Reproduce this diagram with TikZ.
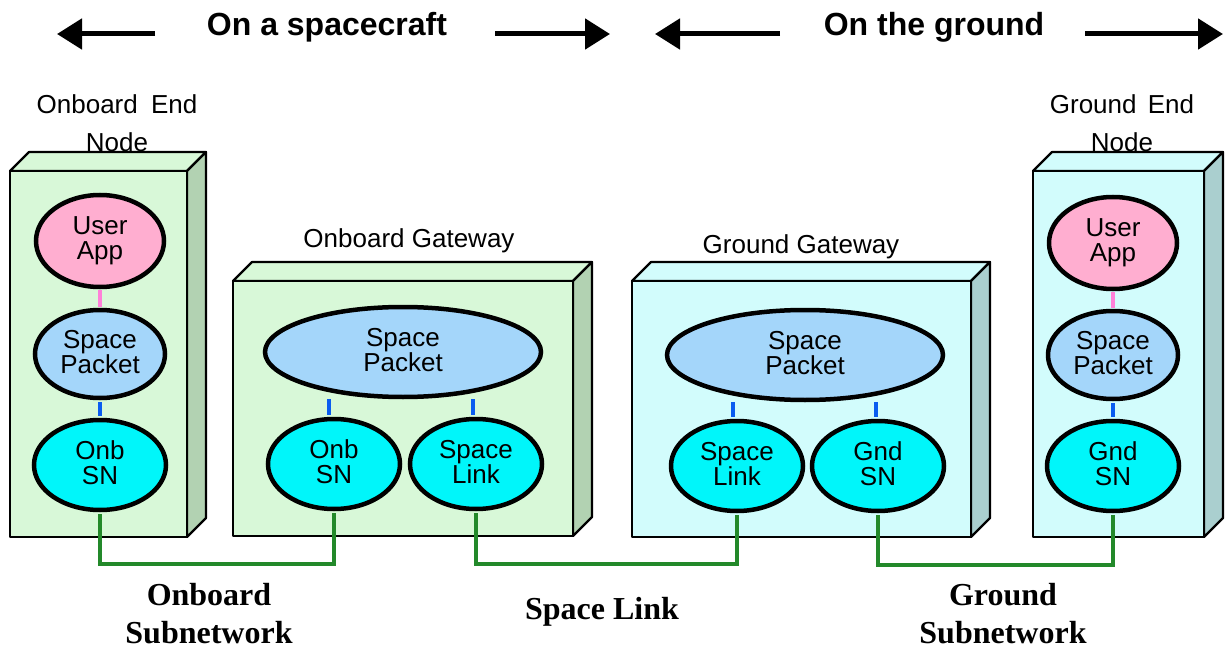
\documentclass[tikz,border=0pt]{standalone}
\usepackage{fontspec}
\setmainfont{Liberation Sans}
\newfontfamily\labelserif{Liberation Serif}
\usetikzlibrary{shapes.geometric,arrows.meta}

\definecolor{obfront}{HTML}{D8F8D8}
\definecolor{obside}{HTML}{B2D2B2}
\definecolor{gdfront}{HTML}{D2FCFC}
\definecolor{gdside}{HTML}{AACFCF}
\definecolor{apppink}{HTML}{FFAED0}
\definecolor{pktblue}{HTML}{A4D6FA}
\definecolor{sncyan}{HTML}{00F6FA}
\definecolor{linkpink}{HTML}{FF80D8}
\definecolor{linkblue}{HTML}{0A5CF0}
\definecolor{netgreen}{HTML}{23892A}

% a box drawn in oblique view: front face, top face and right side
\newcommand\slabbox[6]{%
  \filldraw[boxline, fill=#5] (#1,#2) -- (#1+19,#2-19) -- (#3+19,#2-19) -- (#3,#2) -- cycle;
  \filldraw[boxline, fill=#6] (#3,#2) -- (#3+19,#2-19) -- (#3+19,#4-19) -- (#3,#4) -- cycle;
  \filldraw[boxline, fill=#5] (#1,#2) rectangle (#3,#4);
}

\tikzset{
  boxline/.style={line width=2.2, line join=round},
  layer/.style={ellipse, draw, line width=4.5, inner sep=0, align=center,
    text depth=5, font=\fontsize{26}{25}\selectfont},
  app/.style={layer, fill=apppink, minimum width=128, minimum height=92},
  pkt/.style={layer, fill=pktblue, minimum width=130, minimum height=88},
  bigpkt/.style={layer, fill=pktblue, minimum width=276, minimum height=90},
  sn/.style={layer, fill=sncyan, minimum width=132, minimum height=90},
  pinkwire/.style={draw=linkpink, line width=4, shorten <=1, shorten >=1},
  bluewire/.style={draw=linkblue, line width=4, shorten <=2},
  greenwire/.style={draw=netgreen, line width=4, shorten <=2, shorten >=2},
  dirarrow/.style={line width=5, -{Triangle[length=25,width=30]}},
  title/.style={font=\fontsize{32}{36}\selectfont\bfseries},
  boxlabel/.style={align=center, font=\fontsize{26}{38}\selectfont},
  netlabel/.style={align=center, inner sep=0, font=\labelserif\bfseries\fontsize{32}{38}\selectfont},
}

\begin{document}
\begin{tikzpicture}[x=1pt, y=-1pt]
\useasboundingbox (0,0) rectangle (1227,650);

% headings with direction arrows
\node[title] (spacecraft) at (327,27) {On a spacecraft};
\node[title] (ground) at (934,27) {On the ground};
\coordinate (sL) at (155,34); \coordinate (sLtip) at (57,34);
\coordinate (sR) at (495,34); \coordinate (sRtip) at (610,34);
\coordinate (gL) at (780,34); \coordinate (gLtip) at (655,34);
\coordinate (gR) at (1085,34); \coordinate (gRtip) at (1223,34);
\draw[dirarrow] (sL) -- (sLtip);
\draw[dirarrow] (sR) -- (sRtip);
\draw[dirarrow] (gL) -- (gLtip);
\draw[dirarrow] (gR) -- (gRtip);

% the four boxes
\slabbox{10}{171}{187}{537}{obfront}{obside}
\slabbox{233}{281}{573}{536}{obfront}{obside}
\slabbox{632}{281}{971}{537}{gdfront}{gdside}
\slabbox{1033}{171}{1204}{537}{gdfront}{gdside}

% box titles
\node[boxlabel] (onbendlbl) at (117,123) {Onboard\hspace{6pt} End\\Node};
\node[boxlabel] (onbgwlbl) at (409,241) {Onboard Gateway};
\node[boxlabel] (gndgwlbl) at (801,247) {Ground Gateway};
\node[boxlabel] (gndendlbl) at (1122,123) {Ground\hspace{4pt} End\\Node};

% onboard end node
\node[app] (app1) at (100,241) {User\\App};
\node[pkt] (pkt1) at (100,354) {Space\\Packet};
\node[sn]  (sn1)  at (100,465) {Onb\\SN};

% onboard gateway
\node[bigpkt] (pkt2) at (403,352) {Space\\Packet};
\node[sn] (sn2)   at (334,464) {Onb\\SN};
\node[sn] (link2) at (476,464) {Space\\Link};

% ground gateway
\node[bigpkt] (pkt3) at (805,355) {Space\\Packet};
\node[sn] (link3) at (737,466) {Space\\Link};
\node[sn] (gsn3)  at (878,466) {Gnd\\SN};

% ground end node
\node[app] (app4) at (1113,243) {User\\App};
\node[pkt] (pkt4) at (1113,355) {Space\\Packet};
\node[sn]  (gsn4) at (1113,466) {Gnd\\SN};

% layer interfaces
\draw[pinkwire] (app1.south) -- (pkt1.north);
\draw[pinkwire] (app4.south) -- (pkt4.north);
\draw[bluewire, shorten >=2] (sn1.north) -- (pkt1.south);
\draw[bluewire, shorten >=2] (gsn4.north) -- (pkt4.south);
\draw[bluewire] ([xshift=-5]sn2.north) -- ([xshift=-5]sn2.north |- pkt2.south);
\draw[bluewire] ([xshift=-3]link2.north) -- ([xshift=-3]link2.north |- pkt2.south);
\draw[bluewire] ([xshift=-4]link3.north) -- ([xshift=-4]link3.north |- pkt3.south);
\draw[bluewire] ([xshift=-2]gsn3.north) -- ([xshift=-2]gsn3.north |- pkt3.south);

% subnetworks
\draw[greenwire] (sn1.south) -- ++(0,52) -| (sn2.south);
\draw[greenwire] (link2.south) -- ++(0,53) -| (link3.south);
\draw[greenwire] (gsn3.south) -- ++(0,52) -| (gsn4.south);

\node[netlabel] (onbnet) at (209,614) {Onboard\\Subnetwork};
\node[netlabel] (spacelink) at (602,612) {Space Link};
\node[netlabel] (gndnet) at (1003,614) {Ground\\Subnetwork};
\end{tikzpicture}
\end{document}
